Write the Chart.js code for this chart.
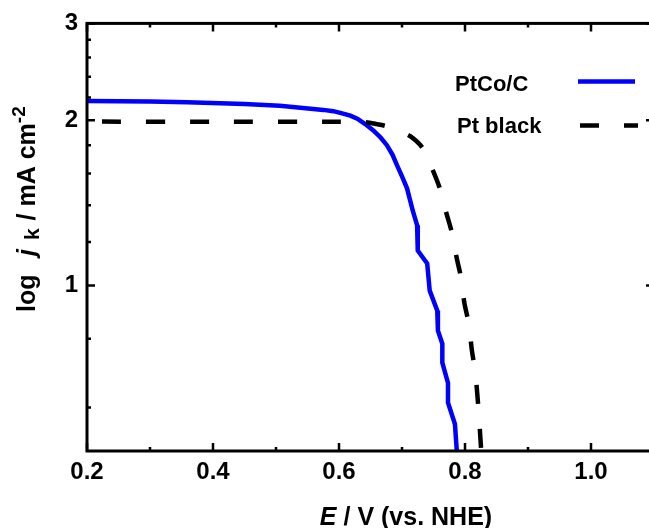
<!DOCTYPE html>
<html>
<head>
<meta charset="utf-8">
<script src="https://cdn.jsdelivr.net/npm/chart.js@4.4.1/dist/chart.umd.min.js"></script>
<style>
  html, body { margin: 0; padding: 0; background: #fff; overflow: hidden; }
  #wrap { width: 649px; height: 528px; overflow: hidden; }
</style>
</head>
<body>
<div id="wrap"><canvas id="kineticChart" width="680" height="528"></canvas></div>
<script>
// Potential E (V vs. NHE) and kinetic current j_k (mA cm-2)
const ptcoE = [0.200, 0.300, 0.359, 0.450, 0.506, 0.551, 0.575, 0.591, 0.605, 0.618, 0.629, 0.641, 0.654, 0.666, 0.676, 0.685, 0.692, 0.700, 0.708, 0.717, 0.724, 0.725, 0.740, 0.744, 0.756, 0.757, 0.764, 0.764, 0.773, 0.773, 0.784, 0.787];
const ptcoJ = [2.167, 2.162, 2.155, 2.140, 2.125, 2.101, 2.088, 2.077, 2.058, 2.038, 2.012, 1.970, 1.918, 1.860, 1.801, 1.730, 1.656, 1.580, 1.503, 1.370, 1.287, 1.158, 1.097, 0.979, 0.900, 0.828, 0.784, 0.724, 0.665, 0.612, 0.560, 0.500];

const ptblackE = [0.200, 0.400, 0.600, 0.640, 0.660, 0.675, 0.695, 0.713, 0.733, 0.749, 0.760, 0.770, 0.779, 0.787, 0.794, 0.799, 0.806, 0.811, 0.816, 0.821, 0.826];
const ptblackJ = [1.988, 1.987, 1.986, 1.983, 1.967, 1.950, 1.910, 1.870, 1.778, 1.621, 1.503, 1.360, 1.250, 1.120, 1.030, 0.930, 0.852, 0.761, 0.700, 0.604, 0.495];

const xMajorTicks = [0.2, 0.4, 0.6, 0.8, 1.0];
const xMinorTicks = [0.3, 0.5, 0.7, 0.9, 1.1];
const yMajorTicks = [1, 2, 3];
const yMinorTicks = [0.6, 0.8, 1.2, 1.4, 1.6, 1.8, 2.2, 2.4, 2.6, 2.8];

const FONT = "'Liberation Sans', Arial, Helvetica, sans-serif";

function toPoints(xs, ys) {
    return xs.map((x, i) => ({ x: x, y: ys[i] }));
}

// box round the plot with inward ticks on all four sides
const framePlugin = {
    id: 'frame',
    afterDraw(chart) {
        const ctx = chart.ctx;
        const area = chart.chartArea;
        const xs = chart.scales.x;
        const ys = chart.scales.y;
        ctx.save();
        ctx.strokeStyle = '#000';
        ctx.lineWidth = 3;
        ctx.strokeRect(area.left, area.top, area.right - area.left, area.bottom - area.top);
        ctx.lineWidth = 2.5;
        ctx.beginPath();
        function xTick(v, len) {
            const px = xs.getPixelForValue(v);
            ctx.moveTo(px, area.bottom); ctx.lineTo(px, area.bottom - len);
            ctx.moveTo(px, area.top); ctx.lineTo(px, area.top + len);
        }
        function yTick(v, len) {
            const py = ys.getPixelForValue(v);
            ctx.moveTo(area.left, py); ctx.lineTo(area.left + len, py);
            ctx.moveTo(area.right, py); ctx.lineTo(area.right - len, py);
        }
        xMajorTicks.forEach(v => xTick(v, 8));
        xMinorTicks.forEach(v => xTick(v, 4));
        yMajorTicks.forEach(v => yTick(v, 8));
        yMinorTicks.forEach(v => yTick(v, 4));
        ctx.stroke();
        ctx.restore();
    }
};

// legend: label on the left, line sample on the right
const legendPlugin = {
    id: 'sideLegend',
    afterDraw(chart) {
        const ctx = chart.ctx;
        const rows = [
            { textX: 455, textY: 91, lineX0: 578, lineX1: 635, lineY: 81.5 },
            { textX: 457, textY: 133, lineX0: 580, lineX1: 638, lineY: 125.5 }
        ];
        ctx.save();
        chart.data.datasets.forEach((ds, i) => {
            const r = rows[i];
            ctx.font = 'bold 22px ' + FONT;
            ctx.fillStyle = '#000';
            ctx.textAlign = 'left';
            ctx.textBaseline = 'alphabetic';
            ctx.fillText(ds.label, r.textX, r.textY);
            ctx.strokeStyle = ds.borderColor;
            ctx.lineWidth = ds.borderWidth;
            ctx.setLineDash(ds.borderDash || []);
            ctx.beginPath();
            ctx.moveTo(r.lineX0, r.lineY);
            ctx.lineTo(r.lineX1, r.lineY);
            ctx.stroke();
        });
        ctx.restore();
    }
};

// axis titles with italic symbols, subscript and superscript
const titlePlugin = {
    id: 'axisTitles',
    afterDraw(chart) {
        const ctx = chart.ctx;
        ctx.save();
        ctx.fillStyle = '#000';
        ctx.textAlign = 'left';
        ctx.textBaseline = 'alphabetic';

        // x title
        const ital = 'italic bold 25px ' + FONT;
        const bold = 'bold 25px ' + FONT;
        ctx.font = ital;
        const wE = ctx.measureText('E').width;
        ctx.font = bold;
        const rest = ' / V (vs. NHE)';
        const wR = ctx.measureText(rest).width;
        let x0 = 406 - (wE + wR) / 2;
        ctx.font = ital;
        ctx.fillText('E', x0, 525);
        ctx.font = bold;
        ctx.fillText(rest, x0 + wE, 525);

        // y title, rotated
        ctx.translate(35, 0);
        ctx.rotate(-Math.PI / 2);
        ctx.font = bold;
        ctx.fillText('log', -312, 0);
        let p = -256;
        ctx.font = ital;
        ctx.fillText('j', p, 0);
        p += ctx.measureText('j').width + 9;
        ctx.font = 'bold 21px ' + FONT;
        ctx.fillText('k', p, 4);
        p += ctx.measureText('k').width + 1;
        ctx.font = bold;
        const unit = ' / mA cm';
        ctx.fillText(unit, p, 0);
        p += ctx.measureText(unit).width;
        ctx.font = 'bold 19px ' + FONT;
        ctx.fillText('-2', p, -10);
        ctx.restore();
    }
};

const ctx = document.getElementById('kineticChart').getContext('2d');

new Chart(ctx, {
    type: 'line',
    data: {
        datasets: [
            {
                label: 'PtCo/C',
                data: toPoints(ptcoE, ptcoJ),
                borderColor: '#0000ff',
                borderWidth: 4.5,
                pointRadius: 0,
                tension: 0,
                order: 1
            },
            {
                label: 'Pt black',
                data: toPoints(ptblackE, ptblackJ),
                borderColor: '#000000',
                borderWidth: 4.5,
                borderDash: [19, 25],
                borderDashOffset: 29,
                pointRadius: 0,
                tension: 0.3,
                order: 0
            }
        ]
    },
    options: {
        responsive: false,
        animation: false,
        layout: { padding: { top: 23, right: 26, left: 0, bottom: 0 } },
        plugins: {
            legend: { display: false },
            tooltip: { enabled: false }
        },
        scales: {
            x: {
                type: 'linear',
                min: 0.2,
                max: 1.1,
                afterBuildTicks: function(scale) {
                    scale.ticks = xMajorTicks.map(v => ({ value: v }));
                },
                afterFit: function(scale) {
                    scale.height = 77;
                },
                grid: { display: false, drawTicks: false },
                border: { display: false },
                ticks: {
                    autoSkip: false,
                    maxRotation: 0,
                    padding: 7,
                    color: '#000',
                    font: { family: FONT, weight: 'bold', size: 24 },
                    callback: function(value) {
                        return Number(value).toFixed(1);
                    }
                }
            },
            y: {
                type: 'logarithmic',
                min: 0.5,
                max: 3,
                afterBuildTicks: function(scale) {
                    scale.ticks = yMajorTicks.map(v => ({ value: v }));
                },
                afterFit: function(scale) {
                    scale.width = 87;
                },
                grid: { display: false, drawTicks: false },
                border: { display: false },
                ticks: {
                    autoSkip: false,
                    padding: 9,
                    color: '#000',
                    font: { family: FONT, weight: 'bold', size: 24 },
                    callback: function(value) {
                        return String(value);
                    }
                }
            }
        }
    },
    plugins: [framePlugin, legendPlugin, titlePlugin]
});
</script>
</body>
</html>
